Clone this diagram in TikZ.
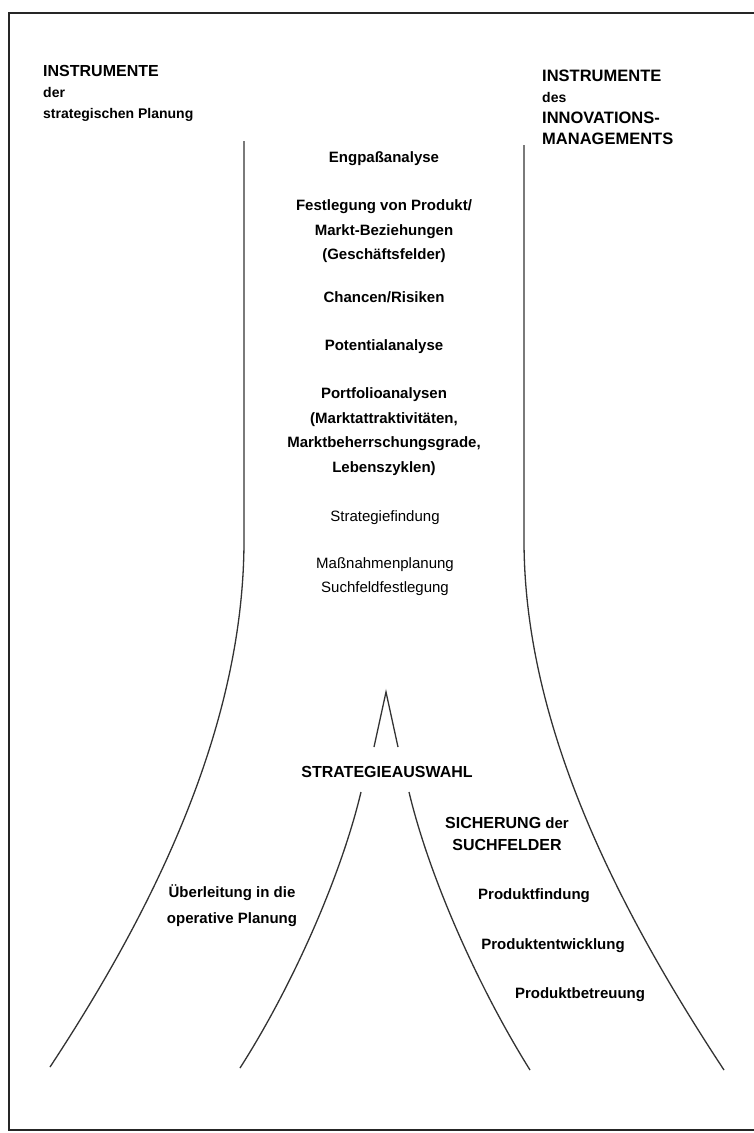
\documentclass[tikz,border=0pt]{standalone}
\usepackage{fontspec}
\setmainfont{Liberation Sans}
\begin{document}
\begin{tikzpicture}[x=1pt,y=-1pt,
  txt/.style={inner sep=0pt,font=\bfseries\fontsize{15}{24.5}\selectfont,align=center},
  lighttxt/.style={inner sep=0pt,font=\fontsize{15}{24}\selectfont,align=center},
  capstxt/.style={inner sep=0pt,font=\bfseries\fontsize{16}{20}\selectfont},
  hdr/.style={inner sep=0pt,font=\bfseries\fontsize{14}{21}\selectfont,align=left,anchor=north west},
  frame/.style={line width=2.2pt,black!85},
  curve/.style={line width=1.3pt,black!80}]
\useasboundingbox (0,0) rectangle (754,1133);
\fill[white] (0,0) rectangle (754,1133);
% frame (open on the right)
\draw[frame] (754,13) -- (9,13) -- (9,1130) -- (754,1130);
% headers
\node[hdr] (hl) at (43,65) {{\fontsize{16}{21}\selectfont INSTRUMENTE}\\der\\strategischen Planung};
\node[hdr] (hr) at (542,70) {{\fontsize{16.5}{20}\selectfont INSTRUMENTE}\\des\\{\fontsize{16.5}{20}\selectfont INNOVATIONS-}\\{\fontsize{16.5}{20}\selectfont MANAGEMENTS}};
% funnel
\draw[curve] (244,141) -- (244,540) .. controls (244,720) and (160,900) .. (50,1067);
\draw[curve] (524,145) -- (524,540) .. controls (524,720) and (612,900) .. (724,1070);
% center texts
\node[txt,anchor=north] (t1) at (384,151.5) {Engpaßanalyse};
\node[txt,anchor=north] (t2) at (384,199.5) {Festlegung von Produkt/\\Markt-Beziehungen\\(Geschäftsfelder)};
\node[txt,anchor=north] (t3) at (384,291.5) {Chancen/Risiken};
\node[txt,anchor=north] (t4) at (384,339.5) {Potentialanalyse};
\node[txt,anchor=north] (t5) at (384,387.5) {Portfolioanalysen\\(Marktattraktivitäten,\\Marktbeherrschungsgrade,\\Lebenszyklen)};
\node[lighttxt,anchor=north] (t6) at (385,510.5) {Strategiefindung};
\node[lighttxt,anchor=north] (t7) at (385,557.5) {Maßnahmenplanung\\Suchfeldfestlegung};
% apex
\coordinate (apx) at (386,692);
\coordinate (apl) at (374,747);
\coordinate (apr) at (398,747);
\draw[curve] (apl) -- (apx) -- (apr);
\node[capstxt] (sa) at (387,772) {STRATEGIEAUSWAHL};
% inner branches
\draw[curve] (361,792) .. controls (340,880) and (290,990) .. (240,1068);
\draw[curve] (409,792) .. controls (430,880) and (480,990) .. (530,1070);
% lower texts
\node[txt,align=center,font=\bfseries\fontsize{15}{22}\selectfont] (si) at (507,834) {{\fontsize{16}{22}\selectfont SICHERUNG} der\\{\fontsize{16}{22}\selectfont SUCHFELDER}};
\node[txt,font=\bfseries\fontsize{15}{26}\selectfont] (ue) at (232,906) {Überleitung in die\\operative Planung};
\node[txt] (p1) at (534,896) {Produktfindung};
\node[txt] (p2) at (553,946) {Produktentwicklung};
\node[txt] (p3) at (580,995) {Produktbetreuung};
\end{tikzpicture}
\end{document}
